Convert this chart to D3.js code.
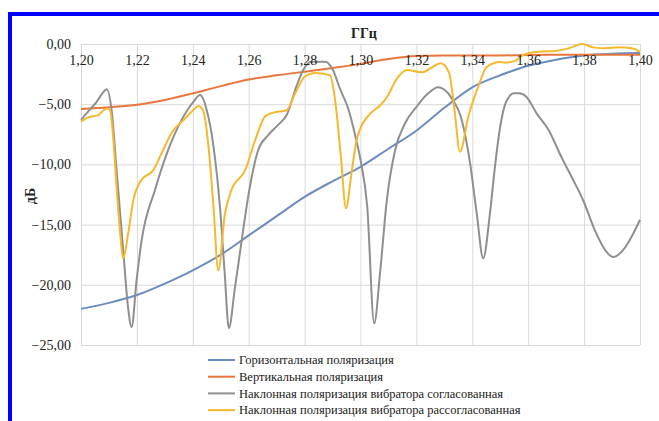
<!DOCTYPE html>
<html>
<head>
<meta charset="utf-8">
<script src="https://cdn.jsdelivr.net/npm/d3@7"></script>
<style>
  html, body { margin: 0; padding: 0; background: #fff; }
  svg { display: block; }
  svg text { font-family: "Liberation Serif", "Times New Roman", Times, "DejaVu Serif", serif; fill: #222; }
</style>
</head>
<body>
<svg id="chart" width="659" height="421"></svg>
<script>
// Frequency (GHz) and level (dB) samples for each polarisation curve
const yTicks = [0, -5, -10, -15, -20, -25];
const xTicks = [1.20, 1.22, 1.24, 1.26, 1.28, 1.30, 1.32, 1.34, 1.36, 1.38, 1.40];

const seriesNames = [
  "Горизонтальная поляризация",
  "Вертикальная поляризация",
  "Наклонная поляризация вибратора согласованная",
  "Наклонная поляризация вибратора рассогласованная"
];
const seriesColors = ["#6b8cc2", "#e9763c", "#8f8f8f", "#f6b82c"];

const horizFreq = [1.20, 1.21, 1.22, 1.23, 1.24, 1.25, 1.26, 1.27, 1.28, 1.29, 1.30, 1.31, 1.32, 1.33, 1.34, 1.35, 1.36, 1.37, 1.38, 1.39, 1.40];
const horizDb   = [-22.0, -21.5, -20.85, -19.9, -18.8, -17.5, -15.9, -14.3, -12.7, -11.4, -10.2, -8.7, -7.2, -5.3, -3.6, -2.6, -1.8, -1.3, -0.95, -0.8, -0.75];

const vertFreq = [1.20, 1.21, 1.22, 1.23, 1.24, 1.25, 1.26, 1.27, 1.28, 1.29, 1.30, 1.31, 1.32, 1.33, 1.34, 1.35, 1.36, 1.37, 1.38, 1.39, 1.40];
const vertDb   = [-5.4, -5.25, -5.05, -4.65, -4.1, -3.5, -2.95, -2.6, -2.3, -2.0, -1.65, -1.25, -1.0, -0.95, -0.95, -0.95, -0.92, -0.9, -0.9, -0.9, -0.9];

const matchedFreq = [1.2000, 1.2026, 1.2056, 1.2080, 1.2092, 1.2110, 1.2128, 1.2152, 1.2168, 1.2181, 1.2199, 1.2217, 1.2265, 1.2312, 1.2360, 1.2402, 1.2426, 1.2450, 1.2474, 1.2497, 1.2514, 1.2529, 1.2551, 1.2575, 1.2598, 1.2634, 1.2670, 1.2706, 1.2736, 1.2771, 1.2795, 1.2824, 1.2874, 1.2898, 1.2928, 1.2958, 1.2982, 1.3000, 1.3024, 1.3049, 1.3070, 1.3094, 1.3124, 1.3159, 1.3201, 1.3242, 1.3278, 1.3326, 1.3362, 1.3392, 1.3416, 1.3439, 1.3463, 1.3481, 1.3499, 1.3521, 1.3550, 1.3567, 1.3594, 1.3630, 1.3672, 1.3719, 1.3761, 1.3797, 1.3839, 1.3875, 1.3904, 1.3940, 1.3970, 1.4000];
const matchedDb   = [-6.3, -5.6, -4.8, -4.0, -3.76, -5.6, -10.7, -17.4, -21.8, -23.5, -19.6, -16.3, -12.1, -8.8, -6.3, -4.8, -4.24, -5.5, -8.5, -13.5, -19.0, -23.6, -20.2, -16.3, -12.7, -8.8, -7.56, -6.7, -5.9, -3.5, -2.16, -1.47, -1.47, -2.0, -3.8, -5.5, -7.7, -9.6, -13.5, -23.2, -19.0, -13.0, -8.8, -6.6, -5.2, -4.1, -3.6, -4.5, -6.3, -9.9, -14.1, -17.8, -14.1, -10.2, -7.0, -4.8, -4.1, -4.1, -4.4, -5.76, -7.1, -9.4, -11.3, -13.0, -15.5, -17.1, -17.7, -17.1, -16.0, -14.6];

const mismatchFreq = [1.2000, 1.2026, 1.2062, 1.2092, 1.2104, 1.2116, 1.2128, 1.2140, 1.2151, 1.2169, 1.2187, 1.2216, 1.2258, 1.2288, 1.2324, 1.2372, 1.2408, 1.2420, 1.2438, 1.2456, 1.2474, 1.2491, 1.2515, 1.2539, 1.2587, 1.2623, 1.2659, 1.2688, 1.2736, 1.2766, 1.2801, 1.2837, 1.2891, 1.2909, 1.2930, 1.2948, 1.2968, 1.2986, 1.2998, 1.3036, 1.3072, 1.3095, 1.3131, 1.3167, 1.3221, 1.3251, 1.3287, 1.3317, 1.3335, 1.3356, 1.3386, 1.3422, 1.3452, 1.3500, 1.3517, 1.3553, 1.3583, 1.3636, 1.3696, 1.3744, 1.3794, 1.3833, 1.3875, 1.3923, 1.3970, 1.4000];
const mismatchDb   = [-6.45, -6.1, -5.9, -5.35, -5.5, -8.0, -12.1, -15.7, -17.8, -15.7, -13.0, -11.3, -10.5, -9.1, -7.4, -6.2, -5.35, -5.15, -5.6, -8.5, -13.5, -18.8, -14.1, -12.1, -10.5, -8.0, -6.0, -5.7, -5.5, -4.1, -2.7, -2.4, -2.6, -4.65, -9.4, -13.65, -10.7, -8.0, -7.1, -5.76, -5.07, -4.4, -2.85, -2.16, -2.35, -2.0, -1.6, -2.4, -5.2, -8.95, -6.0, -3.5, -1.9, -1.5, -1.55, -1.4, -0.9, -0.64, -0.58, -0.36, 0.0, -0.28, -0.36, -0.28, -0.36, -0.64];

const series = [
  { freq: horizFreq, db: horizDb },
  { freq: vertFreq, db: vertDb },
  { freq: matchedFreq, db: matchedDb },
  { freq: mismatchFreq, db: mismatchDb }
];

const svg = d3.select("#chart");
const serif = "'Liberation Serif', 'Times New Roman', Times, 'DejaVu Serif', serif";

// Outer frame
svg.append("rect")
  .attr("x", 10).attr("y", 14)
  .attr("width", 700).attr("height", 460)
  .attr("fill", "none")
  .attr("stroke", "#0000ff")
  .attr("stroke-width", 4);

const x = d3.scaleLinear().domain([1.20, 1.40]).range([81, 640]);
const y = d3.scaleLinear().domain([0, -25]).range([44, 345]);

const locale = d3.formatLocale({ decimal: ",", thousands: " ", grouping: [3], currency: ["", ""], minus: "\u2212" });
const fmt2 = locale.format(".2f");

// Gridlines
svg.append("g")
  .attr("transform", "translate(81,0)")
  .call(d3.axisLeft(y).tickValues(yTicks).tickSize(-(640 - 81)).tickFormat(""))
  .call(g => g.select(".domain").remove())
  .call(g => g.selectAll("line").attr("stroke", "#d9d9d9").attr("stroke-width", 1));

svg.append("g")
  .attr("transform", "translate(0,44)")
  .call(d3.axisBottom(x).tickValues(xTicks).tickSize(345 - 44).tickFormat(""))
  .call(g => g.select(".domain").remove())
  .call(g => g.selectAll("line").attr("stroke", "#d9d9d9").attr("stroke-width", 1));

// Y tick labels
svg.append("g")
  .attr("transform", "translate(81,0)")
  .call(d3.axisLeft(y).tickValues(yTicks).tickSize(0).tickPadding(10).tickFormat(fmt2))
  .attr("font-family", serif)
  .call(g => g.select(".domain").remove())
  .call(g => g.selectAll("text").attr("font-size", 14).attr("fill", "#222"));

// Curves
const line = d3.line()
  .x(d => x(d[0]))
  .y(d => y(d[1]))
  .curve(d3.curveMonotoneX);

series.forEach((s, i) => {
  const pts = s.freq.map((f, j) => [f, s.db[j]]);
  svg.append("path")
    .attr("d", line(pts))
    .attr("fill", "none")
    .attr("stroke", seriesColors[i])
    .attr("stroke-width", 2)
    .attr("stroke-linejoin", "round");
});

// X tick labels (drawn inside the plot, under the top edge)
svg.append("g")
  .attr("transform", "translate(0,44)")
  .call(d3.axisBottom(x).tickValues(xTicks).tickSize(0).tickPadding(0).tickFormat(fmt2))
  .attr("font-family", serif)
  .call(g => g.select(".domain").remove())
  .call(g => g.selectAll("text")
    .attr("y", 21).attr("dy", 0)
    .attr("font-size", 14).attr("fill", "#222"));

// Axis titles
svg.append("text")
  .attr("x", 364).attr("y", 38)
  .attr("text-anchor", "middle")
  .attr("font-family", serif)
  .attr("font-size", 14).attr("font-weight", "bold")
  .text("ГГц");

svg.append("text")
  .attr("transform", "translate(35,196) rotate(-90)")
  .attr("text-anchor", "middle")
  .attr("font-family", serif)
  .attr("font-size", 14).attr("font-weight", "bold")
  .text("дБ");

// Legend
const legend = svg.append("g").attr("font-family", serif);
seriesNames.forEach((name, i) => {
  const ly = 360 + i * 16.7;
  legend.append("line")
    .attr("x1", 208).attr("x2", 235)
    .attr("y1", ly).attr("y2", ly)
    .attr("stroke", seriesColors[i]).attr("stroke-width", 2);
  legend.append("text")
    .attr("x", 239).attr("y", ly)
    .attr("dy", "0.35em")
    .attr("font-size", 12.5)
    .text(name);
});
</script>
</body>
</html>
